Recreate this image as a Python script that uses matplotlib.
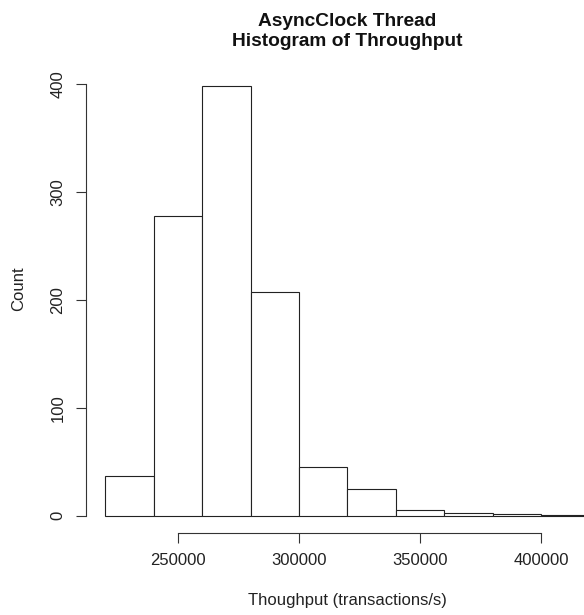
import numpy as np
import matplotlib
matplotlib.use('Agg')
import matplotlib.pyplot as plt

# Histogram breaks (transactions/s) and counts per bin
breaks = [220000, 240000, 260000, 280000, 300000, 320000,
          340000, 360000, 380000, 400000, 420000]
counts = [37, 278, 398, 207, 45, 25, 5, 3, 2, 1]
xticks = [250000, 300000, 350000, 400000]
yticks = [0, 100, 200, 300, 400]

plt.rcParams['font.family'] = ['Liberation Sans', 'DejaVu Sans']

W, H = 584, 615
fig = plt.figure(figsize=(W / 100, H / 100), dpi=100)

# plot region in pixels (R style: extends past the right edge)
left, right, top, bottom = 86, 609, 69, 533
ax = fig.add_axes([left / W, (H - bottom) / H, (right - left) / W, (bottom - top) / H])

edges = np.array(breaks)
ax.bar(edges[:-1], counts, width=np.diff(edges), align='edge',
       facecolor='white', edgecolor='#222222', linewidth=0.8)

# R's default 4% axis extension
span = breaks[-1] - breaks[0]
ax.set_xlim(breaks[0] - 0.04 * span, breaks[-1] + 0.04 * span)
ymax = max(counts)
ax.set_ylim(-0.04 * ymax, ymax * 1.04)

for s in ['top', 'right']:
    ax.spines[s].set_visible(False)
ax.spines['left'].set_bounds(yticks[0], yticks[-1])
ax.spines['bottom'].set_bounds(xticks[0], xticks[-1])
for s in ['left', 'bottom']:
    ax.spines[s].set_linewidth(0.8)
    ax.spines[s].set_color('#333333')

ax.set_xticks(xticks)
ax.set_xticklabels([str(t) for t in xticks])
ax.set_yticks(yticks)
ax.set_yticklabels([str(t) for t in yticks], rotation=90, va='center')
ax.tick_params(length=7.2, width=0.8, color='#333333', labelsize=12,
               labelcolor='#222222')
ax.tick_params(axis='x', pad=7)
ax.tick_params(axis='y', pad=7.5)

cx = (left + right) / 2 / W
fig.text(cx, 1 - 605 / H, 'Thoughput (transactions/s)',
         ha='center', va='baseline', fontsize=12, color='#222222')
fig.text(19 / W, 1 - 289 / H, 'Count', rotation=90,
         ha='center', va='center', fontsize=12, color='#222222')
fig.text(cx, 1 - 26 / H, 'AsyncClock Thread', ha='center', va='baseline',
         fontsize=13.8, fontweight='bold', color='#111111')
fig.text(cx, 1 - 46 / H, 'Histogram of Throughput', ha='center', va='baseline',
         fontsize=13.8, fontweight='bold', color='#111111')

fig.savefig('out.png', dpi=100, facecolor='white')
